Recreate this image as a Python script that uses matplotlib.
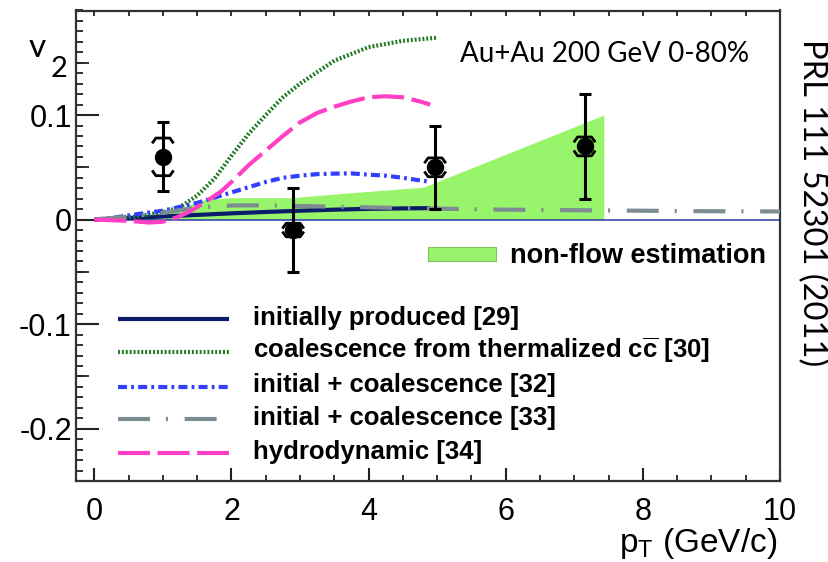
import matplotlib
matplotlib.use("Agg")
import matplotlib.pyplot as plt
from matplotlib.ticker import MultipleLocator, FixedLocator, NullFormatter
from matplotlib.patches import Rectangle

plt.rcParams["lines.scale_dashes"] = False
plt.rcParams["mathtext.fontset"] = "custom"
plt.rcParams["mathtext.rm"] = "Liberation Sans"
plt.rcParams["mathtext.bf"] = "Liberation Sans:bold"
plt.rcParams["mathtext.it"] = "Liberation Sans:italic"

# ---- measured J/psi v2 (Au+Au 200 GeV, 0-80%) ----
pt_data = [1.0, 2.9, 4.97, 7.15]
v2_data = [0.060, -0.010, 0.050, 0.070]
v2_stat = [0.033, 0.040, 0.040, 0.050]
v2_sys = [0.018, 0.0065, 0.009, 0.009]

# ---- non-flow estimation band (upper edge, lower edge at zero) ----
nonflow_pt = [0.0, 0.5, 1.0, 1.3, 1.6, 2.0, 2.9, 3.6, 4.8, 7.43]
nonflow_v2 = [0.0, 0.002, 0.006, 0.012, 0.019, 0.021, 0.021, 0.025, 0.031, 0.100]

# ---- model curves ----
initial_pt = [0.0, 0.5, 1.0, 1.5, 2.0, 2.5, 3.0, 3.5, 4.0, 4.5, 4.9]
initial_v2 = [0.0, 0.0015, 0.003, 0.0045, 0.006, 0.0073, 0.0085, 0.0095, 0.0103, 0.0107, 0.011]

thermal_pt = [0.0, 0.5, 1.0, 1.25, 1.5, 1.75, 2.0, 2.25, 2.5, 2.75, 3.0, 3.5, 4.0, 4.5, 5.0]
thermal_v2 = [0.0, 0.002, 0.007, 0.012, 0.023, 0.039, 0.061, 0.082, 0.100, 0.117, 0.130, 0.152, 0.165, 0.171, 0.174]

coal32_pt = [0.0, 0.3, 0.6, 1.0, 1.3, 1.5, 1.8, 2.0, 2.3, 2.5, 2.75, 3.0, 3.25, 3.5, 3.75, 4.0, 4.25, 4.5, 4.7, 4.86]
coal32_v2 = [0.0, 0.002, 0.005, 0.0085, 0.013, 0.016, 0.022, 0.026, 0.032, 0.036, 0.040, 0.042, 0.0435, 0.044, 0.0442,
             0.043, 0.042, 0.040, 0.038, 0.0365]

coal33_pt = [0.0, 0.5, 1.0, 1.5, 2.0, 2.5, 3.0, 4.0, 5.0, 6.0, 7.0, 8.0, 9.0, 10.0]
coal33_v2 = [0.0, 0.003, 0.0065, 0.0115, 0.0135, 0.0137, 0.0130, 0.0117, 0.0105, 0.0095, 0.009, 0.0085, 0.008, 0.0078]

hydro_pt = [0.0, 0.5, 0.8, 1.0, 1.2, 1.4, 1.6, 1.85, 2.0, 2.25, 2.5, 2.75, 3.0, 3.25, 3.5, 3.75, 4.0, 4.25, 4.5,
            4.75, 4.9]
hydro_v2 = [0.0, -0.0012, -0.0028, -0.002, 0.002, 0.008, 0.016, 0.027, 0.036, 0.052, 0.066, 0.080, 0.093, 0.102,
            0.108, 0.113, 0.117, 0.118, 0.117, 0.113, 0.110]

legend_labels = [
    "initially produced [29]",
    r"coalescence from thermalized c$\overline{\mathbf{c}}$ [30]",
    "initial + coalescence [32]",
    "initial + coalescence [33]",
    "hydrodynamic [34]",
]
band_label = "non-flow estimation"

x_ticks = [0, 2, 4, 6, 8, 10]
x_tick_labels = ["0", "2", "4", "6", "8", "10"]
y_ticks = [-0.2, -0.1, 0.0, 0.1]
y_tick_labels = ["-0.2", "-0.1", "0", "0.1"]

# ---- styles ----
BAND_COLOR = "#98f46a"
styles = [
    dict(color="#0d1b6b", lw=3.0, linestyle="-"),
    dict(color="#1f7a22", lw=3.0, linestyle=(0, (1.4, 1.4))),
    dict(color="#3040ff", lw=3.0, linestyle=(0, (6.5, 3.0, 2.0, 3.0))),
    dict(color="#7d8b92", lw=3.0, linestyle=(0, (23.0, 11.5, 1.5, 12.0))),
    dict(color="#ff40c4", lw=3.0, linestyle=(0, (23.0, 5.5))),
]
curves = [
    (initial_pt, initial_v2),
    (thermal_pt, thermal_v2),
    (coal32_pt, coal32_v2),
    (coal33_pt, coal33_v2),
    (hydro_pt, hydro_v2),
]

W, H = 829, 562
fig = plt.figure(figsize=(W / 100, H / 100), dpi=100)
ax = fig.add_axes([76 / W, (H - 481) / H, 704 / W, 470.5 / H])
ax.set_xlim(-0.267, 10)
ax.set_ylim(-0.25, 0.2)

for s in ax.spines.values():
    s.set_color("#333333")
    s.set_linewidth(1.6)

# ticks
ax.set_xticks(x_ticks, labels=x_tick_labels)
ax.xaxis.set_minor_locator(MultipleLocator(0.5))
ax.tick_params(axis="x", which="major", direction="in", length=9.5, width=1.5, pad=11.5,
               labelsize=22, colors="#222222", labelcolor="black")
ax.tick_params(axis="x", which="minor", direction="in", length=4.5, width=1.3, colors="#222222")
ax.set_yticks(y_ticks, labels=y_tick_labels)
ax.yaxis.set_minor_locator(MultipleLocator(0.01))
ax.tick_params(axis="y", which="major", direction="in", length=16.5, width=1.5, pad=3,
               labelsize=22, colors="#222222", labelcolor="black")
ax.tick_params(axis="y", which="minor", direction="in", length=5, width=1.3, colors="#222222")
for lab in ax.get_xticklabels() + ax.get_yticklabels():
    lab.set_family("Liberation Sans")

# half-division ticks on the y axis
sec_y = ax.secondary_yaxis("left")
sec_y.yaxis.set_major_locator(FixedLocator([-0.15, -0.05, 0.05, 0.15]))
sec_y.yaxis.set_major_formatter(NullFormatter())
sec_y.yaxis.set_minor_locator(FixedLocator([]))
sec_y.tick_params(axis="y", which="major", direction="in", length=9.4, width=1.3, colors="#222222")
sec_y.spines["left"].set_visible(False)

# small ticks along the top edge
sec_x = ax.secondary_xaxis("top")
sec_x.xaxis.set_major_locator(MultipleLocator(0.5))
sec_x.xaxis.set_major_formatter(NullFormatter())
sec_x.xaxis.set_minor_locator(FixedLocator([]))
sec_x.tick_params(axis="x", which="major", direction="in", length=4, width=1.3, colors="#222222")
sec_x.spines["top"].set_visible(False)

# non-flow band
ax.fill_between(nonflow_pt, 0, nonflow_v2, color=BAND_COLOR, lw=0, zorder=1)
ax.hlines(0, 0, 10, color="#2a3aa8", lw=1.1, zorder=1.5)

# model curves
for (xs, ys), st in zip(curves, styles):
    ax.plot(xs, ys, zorder=3, solid_capstyle="butt", dash_capstyle="butt", **st)

# data points with statistical errors
ax.errorbar(pt_data, v2_data, yerr=v2_stat, fmt="o", color="black", ms=11.5, elinewidth=2.2,
            capsize=4.5, capthick=2.2, zorder=6)

# systematic brackets
bw, bh = 0.145, 0.004
for x, y, sy in zip(pt_data, v2_data, v2_sys):
    for sign in (1, -1):
        yb = y + sign * sy
        ax.plot([x - bw, x - 0.7 * bw, x + 0.7 * bw, x + bw],
                [yb - sign * bh, yb, yb, yb - sign * bh],
                color="black", lw=2.0, zorder=6, solid_joinstyle="round")

# legend (model curves)
rows_y = [0.3437, 0.2735, 0.2004, 0.1311, 0.0589]
for ry, st, lab in zip(rows_y, styles, legend_labels):
    ax.plot([0.0592, 0.2178], [ry, ry], transform=ax.transAxes, clip_on=False,
            solid_capstyle="butt", dash_capstyle="butt", **st)
    ax.text(0.2514, ry - 0.0121, lab, transform=ax.transAxes, ha="left", va="baseline",
            fontsize=18.5, fontweight="bold", family="Liberation Sans")

# legend (band)
ax.add_patch(Rectangle((0.5, 0.4682), 0.0966, 0.0285, transform=ax.transAxes,
                       facecolor=BAND_COLOR, edgecolor="#80c060", lw=0.8))
ax.text(0.6165, 0.4633, band_label, transform=ax.transAxes, ha="left", va="baseline",
        fontsize=19.5, fontweight="bold", family="Liberation Sans")

# annotations
ax.text((460 - 76) / 704, (481 - 61.7) / 470.5, "Au+Au 200 GeV 0-80%", transform=ax.transAxes,
        ha="left", va="baseline", fontsize=20, family="Lato")
fig.text(29 / W, 1 - 57 / H, "v", ha="left", va="baseline", fontsize=24, family="Lato")
fig.text(51 / W, 1 - 77 / H, "2", ha="left", va="baseline", fontsize=21, family="Lato")
fig.text(777 / W, 1 - 552 / H, r"p$_{\mathrm{T}}$ (GeV/c)", ha="right", va="baseline",
         fontsize=24, family="Liberation Sans")
fig.text(812 / W, 1 - 203 / H, "PRL 111 52301 (2011)", rotation=-90, ha="center", va="center",
         fontsize=23.5, family="Lato")

fig.savefig("out.png", dpi=100)
